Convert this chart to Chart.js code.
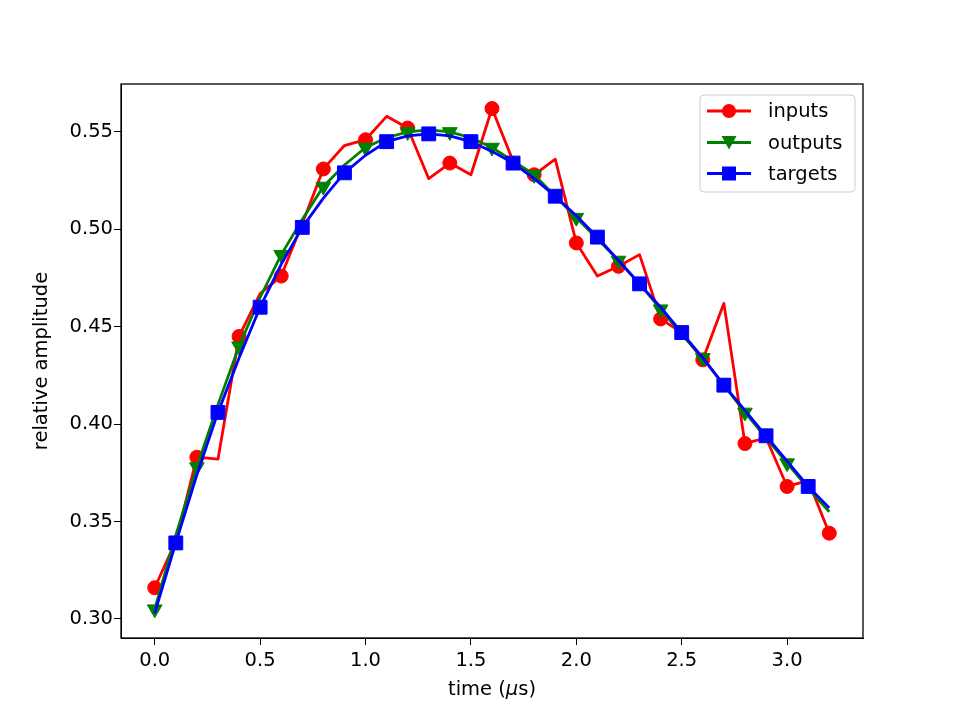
<!DOCTYPE html>
<html>
<head>
<meta charset="utf-8">
<script src="https://cdn.jsdelivr.net/npm/chart.js@4/dist/chart.umd.min.js"></script>
<style>
  body { margin: 0; background: #fff; }
  #wrap { position: relative; width: 961px; height: 719px; }
</style>
</head>
<body>
<div id="wrap"><canvas id="canvas"></canvas></div>
<script>
// values, one per 0.1 us
const times = [0.0, 0.1, 0.2, 0.3, 0.4, 0.5, 0.6, 0.7, 0.8, 0.9, 1.0, 1.1, 1.2, 1.3, 1.4, 1.5, 1.6,
    1.7, 1.8, 1.9, 2.0, 2.1, 2.2, 2.3, 2.4, 2.5, 2.6, 2.7, 2.8, 2.9, 3.0, 3.1, 3.2];
const inputs = [0.316, 0.340, 0.383, 0.382, 0.445, 0.467, 0.476, 0.503, 0.531, 0.543, 0.546, 0.558,
    0.552, 0.526, 0.534, 0.528, 0.562, 0.535, 0.528, 0.536, 0.493, 0.476, 0.481, 0.487, 0.454,
    0.447, 0.433, 0.462, 0.390, 0.393, 0.368, 0.371, 0.344];
const outputs = [0.305, 0.343, 0.378, 0.410, 0.440, 0.465, 0.487, 0.505, 0.522, 0.533, 0.542, 0.547,
    0.550, 0.551, 0.550, 0.547, 0.542, 0.535, 0.528, 0.517, 0.506, 0.495, 0.484, 0.472, 0.459,
    0.446, 0.434, 0.420, 0.406, 0.393, 0.380, 0.367, 0.355];
const targets = [0.303, 0.339, 0.374, 0.406, 0.434, 0.460, 0.482, 0.501, 0.516, 0.529, 0.538, 0.545,
    0.548, 0.549, 0.548, 0.545, 0.540, 0.534, 0.526, 0.517, 0.507, 0.496, 0.484, 0.472, 0.460,
    0.447, 0.434, 0.420, 0.407, 0.394, 0.381, 0.368, 0.357];
const seriesNames = ['inputs', 'outputs', 'targets'];
const xTicks = [0.0, 0.5, 1.0, 1.5, 2.0, 2.5, 3.0];
const yTicks = [0.30, 0.35, 0.40, 0.45, 0.50, 0.55];

const FONT = { family: 'DejaVu Sans', size: 19.5 };

function points(values) {
    return values.map((v, i) => ({ x: times[i], y: v }));
}

// markers on every second point, like markevery
function everyOther(start, r, last) {
    return ctx => {
        const i = ctx.dataIndex;
        if (last === false && i === times.length - 1) return 0;
        return (i - start) % 2 === 0 ? r : 0;
    };
}

function newDataset(label, values, color, style, radius, start, order, last) {
    return {
        label: label,
        data: points(values),
        borderColor: color,
        backgroundColor: color,
        borderWidth: 2.8,
        borderJoinStyle: 'round',
        pointStyle: style,
        pointRotation: style === 'triangle' ? 180 : 0,
        pointRadius: everyOther(start, radius, last),
        pointBackgroundColor: color,
        pointBorderColor: color,
        pointBorderWidth: 1,
        order: order,
        tension: 0,
        fill: false
    };
}

const frame = {
    id: 'frame',
    afterDraw(chart) {
        const { ctx, chartArea: a } = chart;
        ctx.save();
        ctx.strokeStyle = '#000';
        ctx.lineWidth = 1.3;
        ctx.strokeRect(a.left, a.top, a.right - a.left, a.bottom - a.top);

        // x axis title with an italic mu, as matplotlib mathtext draws it
        const font = '19.5px "DejaVu Sans"';
        const italic = 'italic 19.5px "DejaVu Sans"';
        const parts = [['time (', font], ['\u03bc', italic], ['s)', font]];
        let total = 0;
        parts.forEach(p => { ctx.font = p[1]; total += ctx.measureText(p[0]).width; });
        let tx = (a.left + a.right) / 2 - total / 2;
        ctx.fillStyle = '#000';
        ctx.textBaseline = 'middle';
        parts.forEach(p => {
            ctx.font = p[1];
            ctx.fillText(p[0], tx, 690);
            tx += ctx.measureText(p[0]).width;
        });

        // legend box, upper right
        const w = 155, h = 97;
        const left = a.right - 163, top = a.top + 11;
        ctx.beginPath();
        ctx.roundRect(left, top, w, h, 4);
        ctx.fillStyle = 'rgba(255,255,255,0.8)';
        ctx.fill();
        ctx.strokeStyle = '#cccccc';
        ctx.lineWidth = 1;
        ctx.stroke();

        const colors = ['red', 'green', 'blue'];
        const rows = [16, 47.5, 78.5];
        ctx.font = font;
        seriesNames.forEach((name, k) => {
            const y = top + rows[k];
            const mx = left + 29;
            ctx.strokeStyle = colors[k];
            ctx.fillStyle = colors[k];
            ctx.lineWidth = 2.8;
            ctx.beginPath();
            ctx.moveTo(left + 7, y);
            ctx.lineTo(left + 51, y);
            ctx.stroke();
            ctx.beginPath();
            if (k === 0) {
                ctx.arc(mx, y, 7, 0, Math.PI * 2);
            } else if (k === 1) {
                ctx.moveTo(mx - 7.5, y - 6.5);
                ctx.lineTo(mx + 7.5, y - 6.5);
                ctx.lineTo(mx, y + 7);
                ctx.closePath();
            } else {
                ctx.rect(mx - 7, y - 7, 14, 14);
            }
            ctx.fill();
            ctx.fillStyle = '#000';
            ctx.fillText(name, left + 68, y + 1);
        });
        ctx.restore();
    }
};

new Chart(document.getElementById('canvas'), {
    type: 'line',
    data: {
        datasets: [
            newDataset(seriesNames[0], inputs, 'red', 'circle', 7, 0, 2, true),
            newDataset(seriesNames[1], outputs, 'green', 'triangle', 8.5, 0, 1, false),
            newDataset(seriesNames[2], targets, 'blue', 'rect', 9.8, 1, 0, true)
        ]
    },
    options: {
        responsive: true,
        maintainAspectRatio: false,
        animation: false,
        events: [],
        layout: { padding: { top: 84, right: 98, left: 30, bottom: 17 } },
        plugins: {
            legend: { display: false },
            tooltip: { enabled: false }
        },
        scales: {
            x: {
                type: 'linear',
                min: -0.16,
                max: 3.36,
                afterBuildTicks: s => { s.ticks = xTicks.map(v => ({ value: v })); },
                afterFit: s => { s.height = 64; },
                ticks: {
                    color: '#000',
                    font: FONT,
                    padding: 4,
                    maxRotation: 0,
                    callback: v => v.toFixed(1)
                },
                grid: { drawOnChartArea: false, drawTicks: true, tickLength: 7, color: '#000' },
                border: { color: '#000' }
            },
            y: {
                min: 0.2902,
                max: 0.5746,
                afterBuildTicks: s => { s.ticks = yTicks.map(v => ({ value: v })); },
                afterFit: s => { s.width = 91; },
                ticks: {
                    color: '#000',
                    font: FONT,
                    padding: 1,
                    callback: v => v.toFixed(2)
                },
                grid: { drawOnChartArea: false, drawTicks: true, tickLength: 7, color: '#000' },
                border: { color: '#000' },
                title: { display: true, text: 'relative amplitude', color: '#000', font: FONT, padding: 0 }
            }
        }
    },
    plugins: [frame]
});
</script>
</body>
</html>
